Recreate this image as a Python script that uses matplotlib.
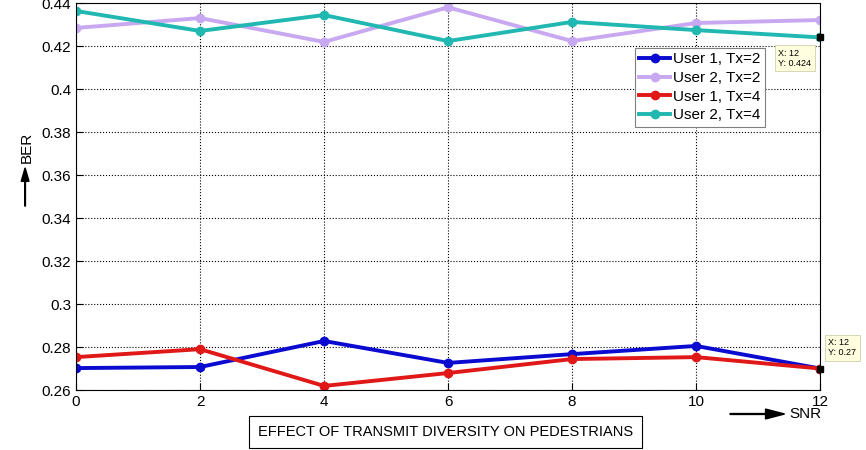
import matplotlib
matplotlib.use("Agg")
import matplotlib.pyplot as plt

# SNR values and BER for each user / transmit antenna count
snr = [0, 2, 4, 6, 8, 10, 12]
user1_tx2 = [0.2702, 0.2707, 0.2828, 0.2726, 0.2767, 0.2805, 0.270]
user2_tx2 = [0.4284, 0.4330, 0.4219, 0.4380, 0.4223, 0.4307, 0.4321]
user1_tx4 = [0.2753, 0.2790, 0.2619, 0.2679, 0.2744, 0.2753, 0.270]
user2_tx4 = [0.4363, 0.4270, 0.4344, 0.4223, 0.4312, 0.4274, 0.424]
labels = ["User 1, Tx=2", "User 2, Tx=2", "User 1, Tx=4", "User 2, Tx=4"]
colors = ["#0a0ad0", "#c8a8f0", "#e01818", "#20b8b0"]

plt.rcParams['font.family'] = ['Liberation Sans', 'DejaVu Sans']

fig = plt.figure(figsize=(8.66, 4.5), dpi=100)
ax = fig.add_axes([0.0878, 0.1333, 0.8592, 0.86])

for vals, lab, c in zip([user1_tx2, user2_tx2, user1_tx4, user2_tx4], labels, colors):
    ax.plot(snr, vals, color=c, lw=2.8, marker='o', ms=6, label=lab)

ax.set_xlim(0, 12)
ax.set_ylim(0.26, 0.44)
ax.set_xticks(snr)
ax.set_yticks([0.26, 0.28, 0.3, 0.32, 0.34, 0.36, 0.38, 0.4, 0.42, 0.44])
ax.set_yticklabels(['0.26', '0.28', '0.3', '0.32', '0.34', '0.36', '0.38', '0.4', '0.42', '0.44'])
ax.tick_params(labelsize=11, direction='in', length=5)
ax.grid(True, linestyle=':', color='black', lw=0.8)

# data tips at the last point
tip_box = dict(boxstyle='square,pad=0.35', fc='#ffffe0', ec='#d0d0a8', lw=0.6)
ax.plot([12], [user2_tx4[-1]], 's', color='black', ms=5, clip_on=False, zorder=5)
ax.annotate("X: 12\nY: %g" % user2_tx4[-1], xy=(12, user2_tx4[-1]), xytext=(-30, -15),
            textcoords='offset points', fontsize=6.5, va='center', ha='left',
            annotation_clip=False, bbox=tip_box)
ax.plot([12], [user1_tx2[-1]], 's', color='black', ms=5, clip_on=False, zorder=5)
ax.annotate("X: 12\nY: %g" % user1_tx2[-1], xy=(12, user1_tx2[-1]), xytext=(6, 15),
            textcoords='offset points', fontsize=6.5, va='center', ha='left',
            annotation_clip=False, bbox=tip_box)

leg = ax.legend(loc='upper left', bbox_to_anchor=(0.751, 0.884), fontsize=11,
                fancybox=False, framealpha=1, edgecolor='#808080', borderaxespad=0,
                handlelength=2.0, handletextpad=0.2, borderpad=0.3, labelspacing=0.3)
leg.get_frame().set_linewidth(0.8)

# y label with arrow
fig.text(0.031, 0.638, "BER", rotation=90, fontsize=11, ha='center', va='bottom')
fig.patches.append(matplotlib.patches.FancyArrow(0.029, 0.542, 0, 0.085, width=0.0008,
                   head_width=0.009, head_length=0.03, color='black', transform=fig.transFigure,
                   length_includes_head=True))

# x label with arrow
fig.patches.append(matplotlib.patches.FancyArrow(0.843, 0.08, 0.063, 0, width=0.002,
                   head_width=0.022, head_length=0.022, color='black', transform=fig.transFigure,
                   length_includes_head=True))
fig.text(0.912, 0.08, "SNR", fontsize=11, ha='left', va='center')

# title in a box
fig.text(0.298, 0.04, "EFFECT OF TRANSMIT DIVERSITY ON PEDESTRIANS", fontsize=10.5,
         ha='left', va='center',
         bbox=dict(boxstyle='square,pad=0.6', fc='white', ec='black', lw=0.8))

fig.savefig("out.png", dpi=100)
